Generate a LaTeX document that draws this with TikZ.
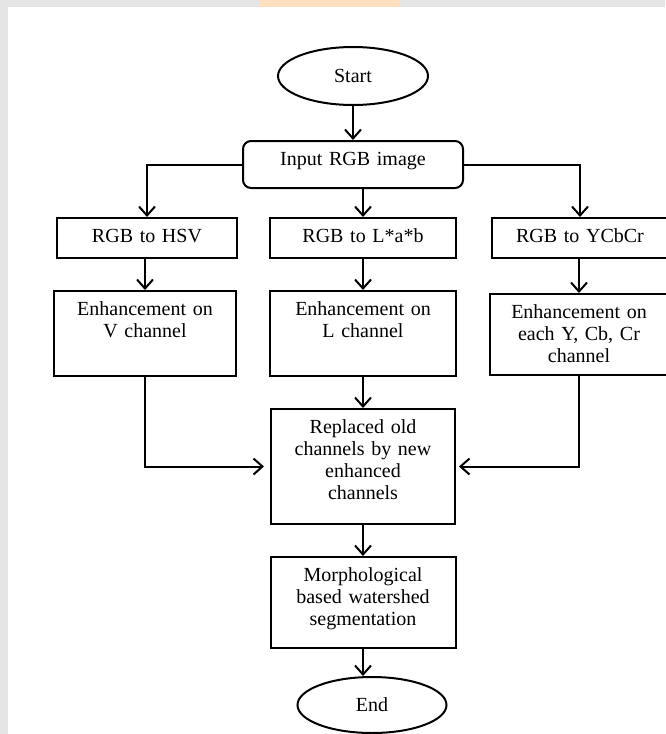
\documentclass[tikz,border=0pt]{standalone}
\usepackage{fontspec}
\setmainfont{Liberation Serif}
\usetikzlibrary{shapes.geometric,arrows.meta}

\begin{document}
\begin{tikzpicture}[x=1pt,y=-1pt,
    box/.style={draw, line width=2pt, text width=164pt, align=center, anchor=north,
        inner ysep=10pt, text height=14pt, font=\fontsize{20}{22}\selectfont},
    term/.style={draw, ellipse, line width=2pt, font=\fontsize{20}{22}\selectfont},
    arr/.style={line width=2pt, -{Straight Barb[length=9pt,width=16pt]}}]
\useasboundingbox (0,0) rectangle (665,734);
% edges of the scan
\fill[gray!20] (0,0) rectangle (8,734);
\fill[gray!20] (0,0) rectangle (665,7);
\fill[orange!25] (260,0) rectangle (400,7);

\node[term, minimum width=150pt, minimum height=58pt] (start) at (353,76) {Start};
\node[box, rounded corners=8pt, minimum width=220pt, text depth=13pt] (input) at (353,140) {Input RGB image};

\node[box, minimum width=180pt, text depth=6pt] (hsv) at (147,217) {RGB to HSV};
\node[box, minimum width=186pt, text depth=6pt] (lab) at (363,217) {RGB to L*a*b};
\node[box, minimum width=176pt, text depth=6pt] (ycc) at (580,217) {RGB to YCbCr};

\node[box, minimum width=182pt, text depth=51pt] (henh) at (145,290) {Enhancement on\\V channel};
\node[box, minimum width=186pt, text depth=51pt] (lenh) at (363,290) {Enhancement on\\L channel};
\node[box, minimum width=178pt, text depth=47pt] (yenh) at (579,293) {Enhancement on\\each Y, Cb, Cr\\channel};

\node[box, minimum width=184pt, text depth=81pt] (repl) at (363,408) {Replaced old\\channels by new\\enhanced\\channels};
\node[box, minimum width=185pt, text depth=57pt] (morph) at (363,556) {Morphological\\based watershed\\segmentation};
\node[term, minimum width=149pt, minimum height=56pt] (end) at (372,705) {End};

% connectors
\draw[arr] (start) -- (input);
\draw[arr] (input.west) -| (hsv.north);
\draw[arr] (lab.north |- input.south) -- (lab.north);
\draw[arr] (input.east) -| (ycc.north);
\draw[arr] (henh.north |- hsv.south) -- (henh.north);
\draw[arr] (lab) -- (lenh);
\draw[arr] (yenh.north |- ycc.south) -- (yenh.north);
\draw[arr, shorten >=6pt] (henh.south) |- (repl.west);
\draw[arr] (lenh) -- (repl);
\draw[arr, shorten >=3pt] (yenh.south) |- (repl.east);
\draw[arr] (repl) -- (morph);
\draw[arr] (morph.south) -- (end.north -| morph.south);

\end{tikzpicture}
\end{document}
